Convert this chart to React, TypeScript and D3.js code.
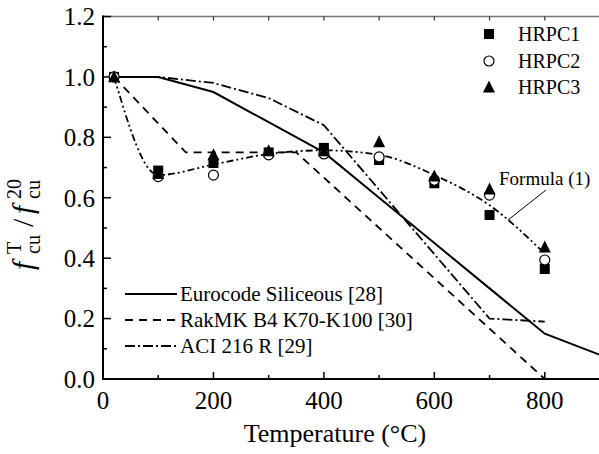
import * as d3 from 'd3';

// temperatures (°C) of the test points
const temps = [20, 100, 200, 300, 400, 500, 600, 700, 800];
const hrpc1 = [1.0, 0.69, 0.715, 0.75, 0.765, 0.725, 0.648, 0.543, 0.364];
const hrpc2 = [1.0, 0.67, 0.675, 0.742, 0.745, 0.735, 0.658, 0.609, 0.394];
const hrpc3 = [1.0, 0.68, 0.742, 0.755, 0.755, 0.785, 0.672, 0.629, 0.437];

// Formula (1) fit
const formulaT = [20, 100, 200, 300, 400, 500, 600, 700, 800];
const formulaV = [1.0, 0.675, 0.71, 0.745, 0.757, 0.742, 0.675, 0.575, 0.415];

// code curves
const euroT = [20, 100, 200, 300, 400, 500, 600, 700, 800, 900];
const euroV = [1.0, 1.0, 0.95, 0.85, 0.75, 0.6, 0.45, 0.3, 0.15, 0.08];
const rakT = [20, 150, 350, 800];
const rakV = [1.0, 0.75, 0.75, 0.0];
const aciT = [20, 100, 200, 300, 400, 700, 800];
const aciV = [1.0, 1.0, 0.98, 0.93, 0.84, 0.2, 0.19];

const xTicks = [0, 200, 400, 600, 800];
const yTicks = [0, 0.2, 0.4, 0.6, 0.8, 1.0, 1.2];

const font = "'Times New Roman', 'Liberation Serif', Tinos, 'DejaVu Serif', serif";

type Pt = [number, number];
const zip = (a: number[], b: number[]): Pt[] => a.map((t, i) => [t, b[i]]);

export default function App() {
  const left = 103, right = 600, top = 16.5, bottom = 379;
  const x = d3.scaleLinear().domain([0, 900]).range([left, right]);
  const y = d3.scaleLinear().domain([0, 1.2]).range([bottom, top]);

  const line = d3.line<Pt>().x(d => x(d[0])).y(d => y(d[1]));
  const smooth = d3.line<Pt>().x(d => x(d[0])).y(d => y(d[1])).curve(d3.curveMonotoneX);

  const minorX = d3.range(0, 901, 100);
  const minorY = d3.range(0, 1.21, 0.1);

  const sq = 10, tri = 12;
  const triPath = (cx: number, cy: number) =>
    `M${cx},${cy - tri * 0.55}L${cx + tri / 2},${cy + tri * 0.45}L${cx - tri / 2},${cy + tri * 0.45}Z`;

  const codeLegend = [
    { label: 'Eurocode Siliceous [28]', dash: 'none' },
    { label: 'RakMK B4 K70-K100 [30]', dash: '8,6' },
    { label: 'ACI 216 R [29]', dash: '10,3,2,3' },
  ];
  const legendY = [294, 320, 346];
  const ts = { fontFamily: font };

  return (
    <svg width={599} height={454} style={{ position: 'absolute', left: 0, top: 0, background: '#fff', fontFamily: font }}>
      <rect width={599} height={454} fill="#fff" />

      {/* top frame line */}
      <line x1={left} x2={right} y1={top} y2={top} stroke="#777" strokeWidth={1.5} />
      {minorX.map(t => (
        <line key={'tt' + t} x1={x(t)} x2={x(t)} y1={top} y2={top + 4} stroke="#333" strokeWidth={1.2} />
      ))}

      {/* axes */}
      <line x1={left} x2={left} y1={top - 1} y2={bottom + 1} stroke="#000" strokeWidth={2} />
      <line x1={left - 1} x2={right} y1={bottom} y2={bottom} stroke="#000" strokeWidth={2} />
      {minorY.map(v => {
        const major = Math.round(v * 10) % 2 === 0;
        return <line key={'yt' + v} x1={left} x2={left + (major ? 8 : 4)} y1={y(v)} y2={y(v)} stroke="#000" strokeWidth={1.5} />;
      })}
      {minorX.map(t => {
        const major = t % 200 === 0;
        return <line key={'xt' + t} x1={x(t)} x2={x(t)} y1={bottom} y2={bottom - (major ? 7 : 4)} stroke="#000" strokeWidth={1.5} />;
      })}
      {yTicks.map(v => (
        <text key={'yl' + v} style={ts} x={95} y={y(v)} dy="0.35em" textAnchor="end" fontSize={25}>{v.toFixed(1)}</text>
      ))}
      {xTicks.map(t => (
        <text key={'xl' + t} style={ts} x={x(t)} y={409} textAnchor="middle" fontSize={25}>{t}</text>
      ))}
      <text style={ts} x={335} y={442} textAnchor="middle" fontSize={26}>Temperature (°C)</text>

      {/* y-axis title */}
      <g transform="translate(33,270) rotate(-90)">
        <text style={ts} fontSize={30}>
          <tspan x={0} y={0} fontStyle="italic">f</tspan>
          <tspan x={16} y={-12} fontSize={20}>T</tspan>
          <tspan x={16} y={7} fontSize={20}>cu</tspan>
          <tspan x={43} y={0}>/</tspan>
          <tspan x={56} y={0} fontStyle="italic">f</tspan>
          <tspan x={71} y={-12} fontSize={20}>20</tspan>
          <tspan x={71} y={7} fontSize={20}>cu</tspan>
        </text>
      </g>

      {/* code curves */}
      <path d={line(zip(euroT, euroV)) || ''} fill="none" stroke="#000" strokeWidth={2} />
      <path d={line(zip(rakT, rakV)) || ''} fill="none" stroke="#000" strokeWidth={1.8} strokeDasharray="8,6" />
      <path d={line(zip(aciT, aciV)) || ''} fill="none" stroke="#000" strokeWidth={1.8} strokeDasharray="10,3,2,3" />
      <path d={smooth(zip(formulaT, formulaV)) || ''} fill="none" stroke="#000" strokeWidth={1.8} strokeDasharray="7,3,2,3,2,3" />

      {/* test points */}
      {temps.map((t, i) => (
        <rect key={'s' + t} x={x(t) - sq / 2} y={y(hrpc1[i]) - sq / 2} width={sq} height={sq} fill="#000" />
      ))}
      {temps.map((t, i) => (
        <circle key={'c' + t} cx={x(t)} cy={y(hrpc2[i])} r={5} fill="#fff" stroke="#000" strokeWidth={1.2} />
      ))}
      {temps.map((t, i) => (
        <path key={'t' + t} d={triPath(x(t), y(hrpc3[i]))} fill="#000" />
      ))}

      {/* Formula label */}
      <line x1={546} y1={190} x2={508} y2={220} stroke="#000" strokeWidth={1} />
      <text style={ts} x={499} y={185} fontSize={19}>Formula (1)</text>

      {/* marker legend */}
      <rect x={489 - sq / 2} y={34 - sq / 2} width={sq} height={sq} fill="#000" />
      <circle cx={489} cy={61} r={5} fill="#fff" stroke="#000" strokeWidth={1.2} />
      <path d={triPath(489, 87)} fill="#000" />
      {['HRPC1', 'HRPC2', 'HRPC3'].map((s, i) => (
        <text key={s} style={ts} x={518} y={[34, 61, 87][i] + 7} fontSize={20}>{s}</text>
      ))}

      {/* line legend */}
      {codeLegend.map((c, i) => (
        <g key={c.label}>
          <line x1={125} x2={177} y1={legendY[i]} y2={legendY[i]} stroke="#000" strokeWidth={i === 0 ? 2 : 1.8}
            strokeDasharray={c.dash} />
          <text style={ts} x={180} y={legendY[i] + 7} fontSize={21}>{c.label}</text>
        </g>
      ))}
    </svg>
  );
}
